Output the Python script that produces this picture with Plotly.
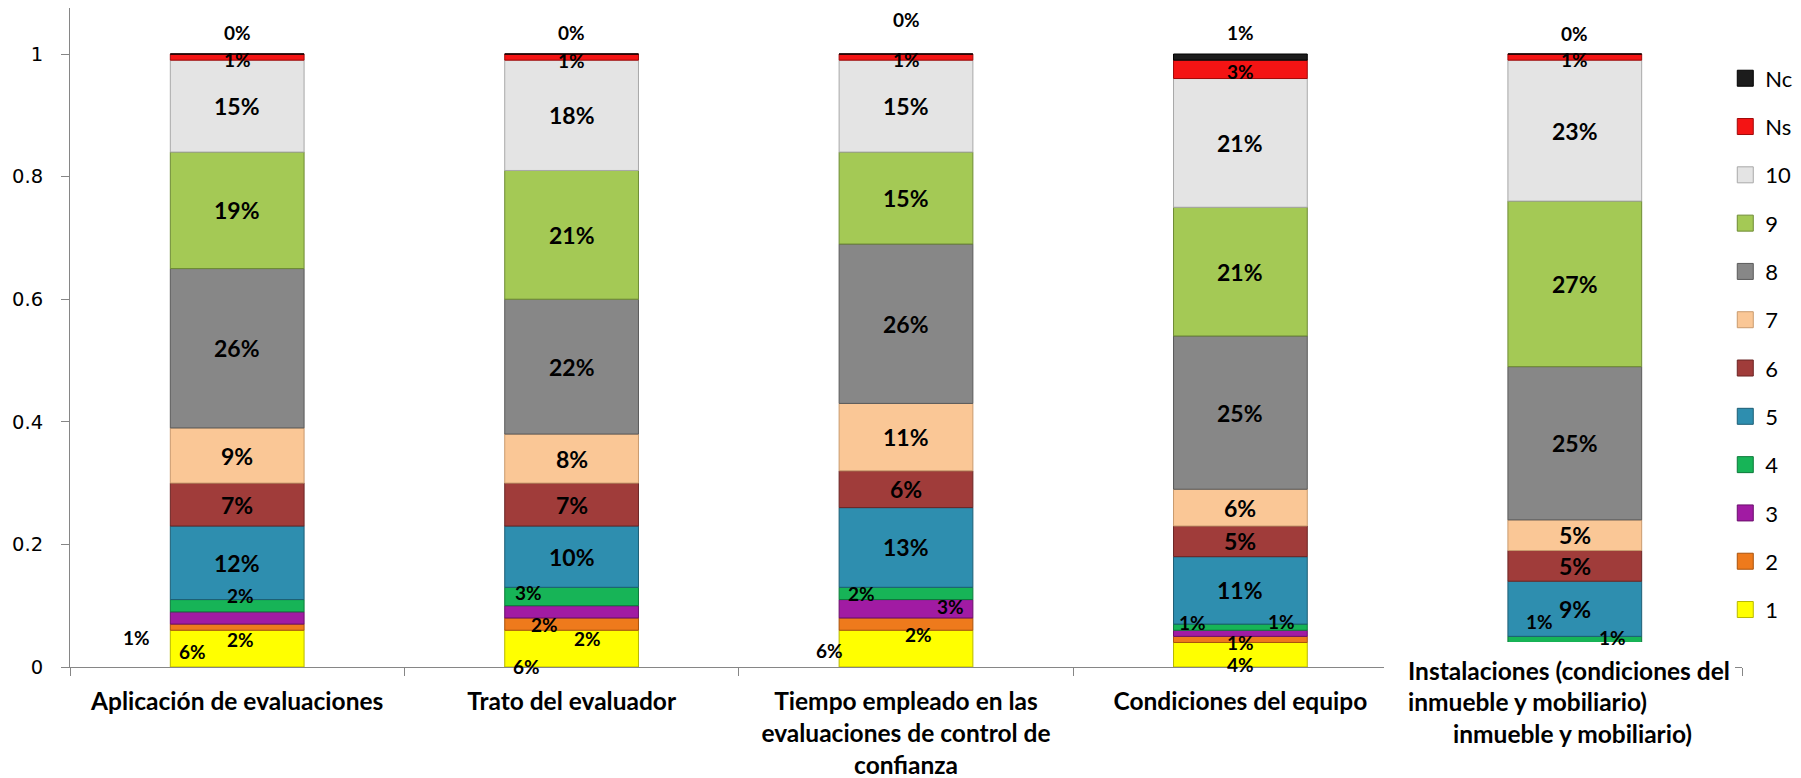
import plotly.graph_objects as go

# ---------------- data ----------------
categories = [
    "Aplicación de evaluaciones",
    "Trato del evaluador",
    "Tiempo empleado en las evaluaciones de control de confianza",
    "Condiciones del equipo",
    "Instalaciones (condiciones del inmueble y mobiliario)",
]
tick_text = [
    "Aplicación de evaluaciones",
    "Trato del evaluador",
    "Tiempo empleado en las<br>evaluaciones de control de<br>confianza",
    "Condiciones del equipo",
    "",
]
last_label_lines = ["Instalaciones (condiciones del", "inmueble y mobiliario)",
                    "inmueble y mobiliario)"]
series_names = ["1", "2", "3", "4", "5", "6", "7", "8", "9", "10", "Ns", "Nc"]

s1 = [0.06, 0.06, 0.06, 0.04, 0.02]
s2 = [0.01, 0.02, 0.02, 0.01, 0.01]
s3 = [0.02, 0.02, 0.03, 0.01, 0.01]
s4 = [0.02, 0.03, 0.02, 0.01, 0.01]
s5 = [0.12, 0.10, 0.13, 0.11, 0.09]
s6 = [0.07, 0.07, 0.06, 0.05, 0.05]
s7 = [0.09, 0.08, 0.11, 0.06, 0.05]
s8 = [0.26, 0.22, 0.26, 0.25, 0.25]
s9 = [0.19, 0.21, 0.15, 0.21, 0.27]
s10 = [0.15, 0.18, 0.15, 0.21, 0.23]
s_ns = [0.01, 0.01, 0.01, 0.03, 0.01]
s_nc = [0.00, 0.00, 0.00, 0.01, 0.00]
values = [s1, s2, s3, s4, s5, s6, s7, s8, s9, s10, s_ns, s_nc]

# ---------------- style ----------------
fill_colors = ["#FFFF00", "#EE7A1C", "#A11BA3", "#17B457", "#2E8EAF", "#A03C3A",
               "#FAC796", "#878787", "#A4C955", "#E4E4E4", "#F41414", "#1C1C1C"]
line_colors = ["#B8B800", "#A9530C", "#6A0F6C", "#0C7A3A", "#1D5E75", "#6B2524",
               "#C99A6E", "#5A5A5A", "#6E8B35", "#A8A8A8", "#A00A0A", "#000000"]
small_label = {"1", "2", "3", "4", "Ns", "Nc"}

# manual label offsets (pixels) for labels moved away from the segment centre
label_shift = {
    ("1", 0): (-45, -3), ("2", 0): (-101, -10), ("3", 0): (3, -22), ("4", 0): (3, 10),
    ("Ns", 0): (0, -2), ("Nc", 0): (0, 22),
    ("1", 1): (-45, -18), ("2", 1): (-27, 0), ("3", 1): (16, -27), ("4", 1): (-43, 4),
    ("Ns", 1): (0, -3), ("Nc", 1): (0, 22),
    ("1", 2): (-77, -2), ("2", 2): (12, -10), ("3", 2): (44, 2), ("4", 2): (-45, 0),
    ("Ns", 2): (0, -2), ("Nc", 2): (0, 35),
    ("1", 3): (0, -10), ("2", 3): (0, -3), ("3", 3): (-48, 11), ("4", 3): (41, 6),
    ("Ns", 3): (0, -2), ("Nc", 3): (0, 25),
    ("3", 4): (-35, 24), ("4", 4): (38, 2),
    ("Ns", 4): (0, -2), ("Nc", 4): (0, 21),
}
hidden_labels = {("1", 4), ("2", 4)}

LABEL_FONT = "Lato"
fig = go.Figure()
annotations = []
base = [0.0] * len(categories)
for name, vals, fc, lc in zip(series_names, values, fill_colors, line_colors):
    fig.add_trace(go.Bar(
        x=categories, y=vals, name=name, base=base[:],
        marker=dict(color=fc, line=dict(color=lc, width=1)),
        width=0.40, showlegend=False,
    ))
    for i, (c, v) in enumerate(zip(categories, vals)):
        if (name, i) not in hidden_labels:
            dx, dy = label_shift.get((name, i), (0, 0))
            annotations.append(dict(
                x=c, y=base[i] + v / 2, xref="x", yref="y",
                text=f"{round(v * 100)}%", showarrow=False,
                xshift=dx, yshift=dy,
                font=dict(family=LABEL_FONT, size=19 if name in small_label else 23,
                          color="#000000", weight="bold"),
            ))
        base[i] += v

# legend proxies (larger square swatches), listed top-to-bottom: Nc ... 1
for name, fc, lc in reversed(list(zip(series_names, fill_colors, line_colors))):
    fig.add_trace(go.Scatter(
        x=[None], y=[None], mode="markers", name=name, legendgroup=name,
        marker=dict(symbol="square", size=16, color=fc, line=dict(color=lc, width=1)),
    ))

# category label of the last bar (drawn as a boxed text in the original)
line_offsets = [(-169, -3), (-169, -34), (-124, -66)]
for txt, (dx, dy) in zip(last_label_lines, line_offsets):
    annotations.append(dict(
        x=categories[4], y=0, xref="x", yref="y", xanchor="left", yanchor="middle",
        xshift=dx, yshift=dy, align="left", showarrow=False, text=txt,
        font=dict(family=LABEL_FONT, size=24.5, color="#000000", weight="bold"),
    ))

PLOT_W, PLOT_H = 1672, 659
fig.add_shape(type="rect", xref="paper", yref="paper",
              x0=(1384 - 70) / PLOT_W, x1=(1735 - 70) / PLOT_W, y0=-0.12, y1=25 / PLOT_H,
              fillcolor="white", line=dict(width=0), layer="above")

fig.update_layout(
    width=1793, height=770,
    margin=dict(l=62, r=59, t=0, b=111, autoexpand=False),
    barmode="overlay",
    plot_bgcolor="white", paper_bgcolor="white",
    annotations=annotations,
    showlegend=True,
    legend=dict(
        x=0.990, xanchor="left", y=0.925, yanchor="top",
        traceorder="grouped", tracegroupgap=16.7,
        font=dict(family="Lato", size=22, color="#000000"),
        bgcolor="rgba(0,0,0,0)", itemsizing="trace",
    ),
    xaxis=dict(
        type="category", tickmode="array", tickvals=categories, ticktext=tick_text,
        showline=True, linecolor="#868686", linewidth=1,
        ticks="outside", tickson="boundaries", ticklen=8, tickcolor="#868686",
        showgrid=False, zeroline=False, automargin=False,
        tickfont=dict(family=LABEL_FONT, size=24.5, color="#000000", weight="bold"),
        ticklabelstandoff=13,
    ),
    yaxis=dict(
        range=[0, PLOT_H / 613], dtick=0.2, tick0=0,
        showline=True, linecolor="#868686", linewidth=1,
        ticks="outside", ticklen=8, tickcolor="#868686",
        showgrid=False, zeroline=False, automargin=False,
        tickfont=dict(family="DejaVu Sans", size=19.5, color="#000000"),
        ticklabelstandoff=14,
    ),
)

fig.write_html("out.html")
